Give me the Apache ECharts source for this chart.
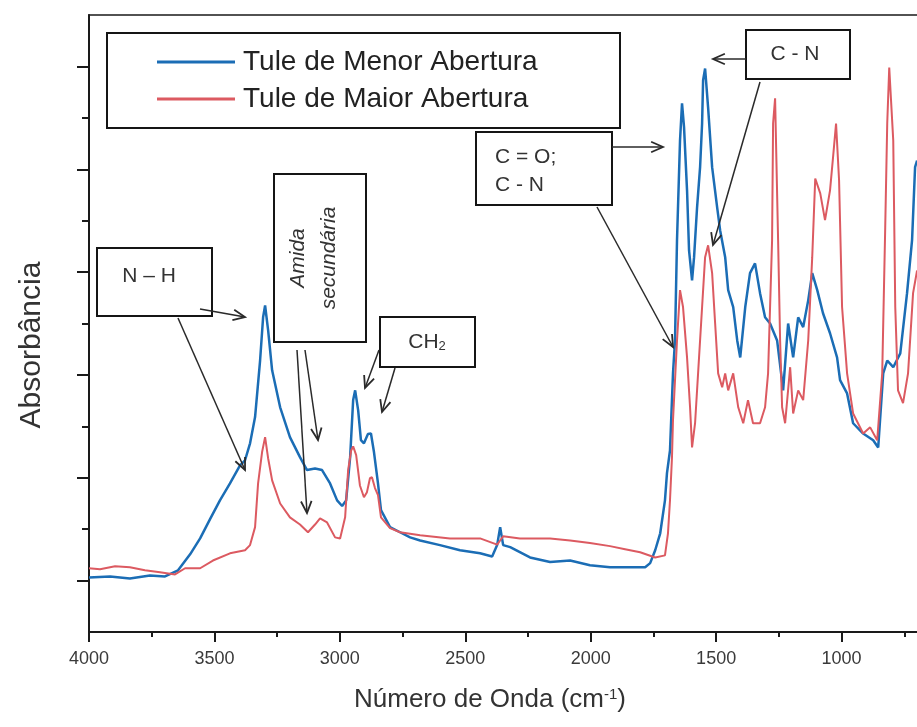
<!DOCTYPE html>
<html>
<head>
<meta charset="utf-8">
<script src="https://cdn.jsdelivr.net/npm/echarts@6.0.0/dist/echarts.min.js"></script>
<style>
  html, body { margin: 0; padding: 0; background: #fff; }
  #main { width: 917px; height: 727px; }
</style>
</head>
<body>
<div id="main"></div>
<script>
// Tule de Menor Abertura (blue)
var waveMenor = [
  4000,3916,3837,3757,3697,3645,3597,3557,3518,3478,
  3438,3398,3378,3358,3338,3318,3306,3298,3286,3270,
  3238,3199,3159,3131,3099,3071,3039,3011,2991,2975,
  2959,2947,2939,2927,2916,2904,2888,2876,2864,2848,
  2836,2800,2760,2720,2680,2601,2521,2441,2393,2373,
  2361,2349,2321,2242,2162,2082,2003,1923,1843,1783,
  1763,1743,1723,1704,1696,1684,1672,1664,1656,1644,
  1636,1628,1616,1608,1596,1588,1576,1564,1556,1552,
  1544,1532,1516,1496,1484,1464,1452,1432,1416,1404,
  1384,1365,1345,1325,1305,1285,1257,1241,1233,1213,
  1193,1173,1153,1133,1117,1097,1074,1046,1018,1006,
  978,954,914,874,854,834,818,794,766,739,
  719,707,699
];
var absMenor = [
  0.106,0.108,0.104,0.110,0.108,0.120,0.151,0.182,0.219,0.256,
  0.289,0.324,0.334,0.367,0.418,0.528,0.612,0.635,0.587,0.509,
  0.437,0.379,0.340,0.315,0.318,0.315,0.289,0.256,0.245,0.256,
  0.340,0.451,0.470,0.431,0.373,0.367,0.385,0.386,0.350,0.289,
  0.237,0.204,0.194,0.184,0.178,0.169,0.159,0.153,0.147,0.169,
  0.204,0.169,0.165,0.145,0.136,0.139,0.130,0.126,0.126,0.126,
  0.134,0.159,0.192,0.256,0.309,0.353,0.503,0.567,0.762,0.956,
  1.028,0.982,0.859,0.742,0.684,0.729,0.826,0.904,0.989,1.073,
  1.096,1.020,0.904,0.826,0.781,0.729,0.665,0.632,0.567,0.534,
  0.632,0.698,0.717,0.659,0.612,0.600,0.567,0.503,0.470,0.600,
  0.534,0.612,0.593,0.645,0.698,0.665,0.620,0.581,0.534,0.490,
  0.464,0.406,0.386,0.373,0.359,0.503,0.528,0.515,0.542,0.659,
  0.762,0.904,0.917
];

// Tule de Maior Abertura (red)
var waveMaior = [
  4000,3956,3896,3837,3777,3717,3657,3617,3557,3506,
  3438,3378,3358,3338,3326,3310,3298,3286,3270,3238,
  3199,3159,3127,3099,3079,3051,3019,2999,2979,2967,
  2955,2947,2935,2920,2904,2892,2880,2872,2860,2848,
  2836,2800,2760,2680,2561,2441,2373,2361,2349,2282,
  2162,2082,2003,1923,1863,1803,1743,1704,1692,1684,
  1676,1672,1656,1644,1632,1616,1604,1596,1584,1572,
  1556,1544,1532,1516,1504,1492,1476,1464,1452,1432,
  1412,1392,1373,1353,1325,1305,1293,1277,1273,1265,
  1253,1245,1237,1225,1205,1193,1173,1153,1133,1117,
  1105,1085,1066,1046,1034,1022,1010,998,978,954,
  914,886,858,838,826,818,810,794,786,775,
  755,735,715,699
];
var absMaior = [
  0.124,0.122,0.128,0.126,0.120,0.116,0.112,0.124,0.124,0.139,
  0.153,0.159,0.169,0.204,0.289,0.350,0.379,0.338,0.295,0.250,
  0.223,0.209,0.194,0.209,0.221,0.213,0.184,0.182,0.223,0.315,
  0.353,0.361,0.344,0.285,0.262,0.272,0.299,0.301,0.280,0.266,
  0.223,0.202,0.194,0.188,0.182,0.182,0.170,0.178,0.186,0.182,
  0.182,0.178,0.173,0.167,0.161,0.155,0.145,0.149,0.192,0.256,
  0.340,0.412,0.567,0.665,0.632,0.534,0.437,0.359,0.406,0.503,
  0.632,0.729,0.752,0.698,0.600,0.503,0.476,0.503,0.470,0.503,
  0.437,0.406,0.451,0.406,0.406,0.437,0.503,0.762,0.989,1.038,
  0.762,0.567,0.437,0.406,0.515,0.425,0.470,0.451,0.567,0.729,
  0.882,0.853,0.801,0.859,0.923,0.989,0.879,0.632,0.503,0.425,
  0.386,0.398,0.373,0.503,0.787,0.989,1.098,0.956,0.632,0.470,
  0.445,0.503,0.659,0.703
];

var seriesNames = ['Tule de Menor Abertura', 'Tule de Maior Abertura'];
var yMajorTicks = [0.1, 0.3, 0.5, 0.7, 0.9, 1.1];
var yMinorTicks = [0.2, 0.4, 0.6, 0.8, 1.0];

function pairs(w, a) {
  return w.map(function (v, i) { return [v, a[i]]; });
}

var ink = '#333';
function box(x, y, w, h, z) {
  return { type: 'rect', z: z || 10, shape: { x: x, y: y, width: w, height: h },
    style: { fill: '#fff', stroke: '#151515', lineWidth: 2 } };
}
function label(x, y, text, extra) {
  var st = { text: text, fontSize: 21, fontFamily: 'Liberation Sans, Arial, sans-serif',
    fill: ink, align: 'center', verticalAlign: 'middle' };
  for (var k in extra) st[k] = extra[k];
  return { type: 'text', x: x, y: y, z: 12, style: st };
}
function arrow(x1, y1, x2, y2) {
  var ang = Math.atan2(y2 - y1, x2 - x1), L = 13, s = 0.42;
  var p1 = [x2 - L * Math.cos(ang - s), y2 - L * Math.sin(ang - s)];
  var p2 = [x2 - L * Math.cos(ang + s), y2 - L * Math.sin(ang + s)];
  return [
    { type: 'line', z: 20, shape: { x1: x1, y1: y1, x2: x2, y2: y2 },
      style: { stroke: '#2a2a2a', lineWidth: 1.5 } },
    { type: 'polyline', z: 20, shape: { points: [p1, [x2, y2], p2] },
      style: { stroke: '#2a2a2a', lineWidth: 1.8, fill: null } }
  ];
}

var amida = label(314, 258, 'Amida\nsecundária', { fontStyle: 'italic', lineHeight: 31 });
amida.rotation = Math.PI / 2;
var yName = label(32, 345, 'Absorbância', { fontSize: 30 });
yName.rotation = Math.PI / 2;

var graphics = [
  box(107, 33, 513, 95, 3),
  box(97, 248, 115, 68),
  box(274, 174, 92, 168),
  box(380, 317, 95, 50),
  box(476, 132, 136, 73),
  box(746, 30, 104, 49),
  label(149, 276, 'N – H'),
  amida,
  label(427, 342, 'CH{sub|2}', { rich: { sub: { fontSize: 13, verticalAlign: 'bottom', fill: ink } } }),
  label(495, 143, 'C = O;\nC - N', { align: 'left', verticalAlign: 'top', lineHeight: 28 }),
  label(795, 54, 'C - N'),
  yName,
  label(490, 700, 'Número de Onda (cm{sup|-1})',
    { fontSize: 26, rich: { sup: { fontSize: 15, verticalAlign: 'top', fill: ink } } })
];

[[200, 309, 245, 317], [178, 318, 245, 470], [297, 350, 307, 513], [305, 350, 318, 440],
 [379, 350, 365, 388], [395, 368, 382, 412], [612, 147, 663, 147], [597, 207, 673, 347],
 [746, 59, 713, 59], [760, 82, 713, 245]].forEach(function (a) {
  graphics = graphics.concat(arrow(a[0], a[1], a[2], a[3]));
});

var chart = echarts.init(document.getElementById('main'));
var option = {
  animation: false,
  backgroundColor: '#fff',
  textStyle: { fontFamily: 'Liberation Sans, Arial, sans-serif' },
  grid: { left: 89, right: -50, top: 15, bottom: 95, show: true, outerBoundsMode: 'none',
    containLabel: false,
    borderColor: '#1a1a1a', borderWidth: 1.5, backgroundColor: 'transparent' },
  legend: {
    data: seriesNames, orient: 'vertical', left: 157, top: 48, padding: 0,
    itemWidth: 78, itemHeight: 3, itemGap: 9, icon: 'rect',
    textStyle: { fontSize: 28, color: '#222', padding: [0, 0, 0, 3] }
  },
  xAxis: {
    type: 'value', inverse: true, min: 500, max: 4000, interval: 500,
    axisLine: { lineStyle: { color: '#1a1a1a', width: 2 } },
    axisTick: { length: 10, lineStyle: { color: '#1a1a1a', width: 2 } },
    minorTick: { show: true, splitNumber: 2, length: 5, lineStyle: { color: '#1a1a1a', width: 2 } },
    axisLabel: { fontSize: 18, color: '#3a3a3a', margin: 18,
      formatter: function (v) { return String(v); } },
    splitLine: { show: false }
  },
  yAxis: [{
    type: 'value', min: 0, max: 1.2, position: 'left',
    axisLine: { show: true, lineStyle: { color: '#1a1a1a', width: 2 } },
    axisTick: { show: true, customValues: yMajorTicks, length: 12, lineStyle: { color: '#1a1a1a', width: 2 } },
    axisLabel: { show: false },
    splitLine: { show: false }
  }, {
    type: 'value', min: 0, max: 1.2, position: 'left', offset: 0,
    axisLine: { show: false },
    axisTick: { show: true, customValues: yMinorTicks, length: 7, lineStyle: { color: '#1a1a1a', width: 2 } },
    axisLabel: { show: false },
    splitLine: { show: false }
  }],
  series: [{
    name: seriesNames[0], type: 'line', showSymbol: false, symbol: 'none',
    color: '#1b6db5', lineStyle: { width: 2.5, color: '#1b6db5' },
    data: pairs(waveMenor, absMenor)
  }, {
    name: seriesNames[1], type: 'line', showSymbol: false, symbol: 'none',
    color: '#dc5a61', lineStyle: { width: 2, color: '#dc5a61' },
    data: pairs(waveMaior, absMaior)
  }],
  graphic: { elements: graphics }
};
chart.setOption(option);
</script>
</body>
</html>
